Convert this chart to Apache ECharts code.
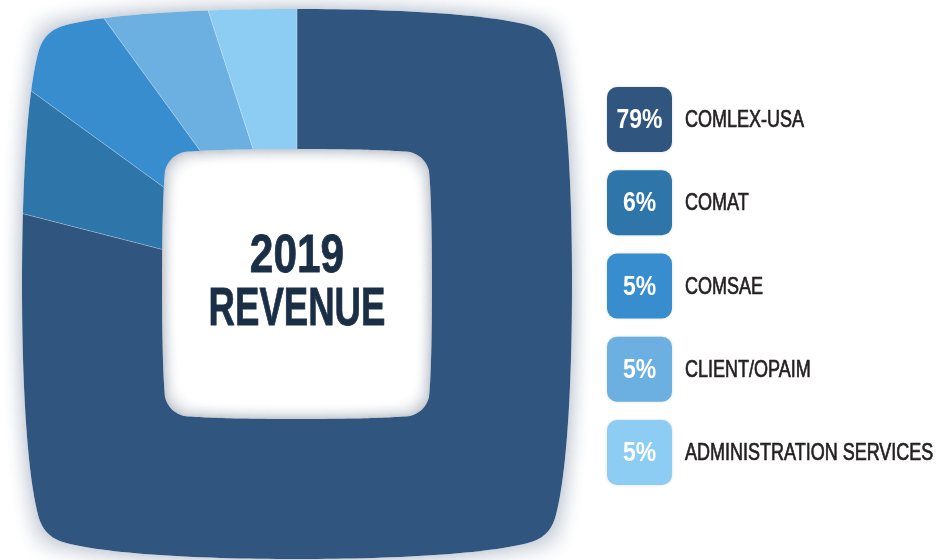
<!DOCTYPE html>
<html><head><meta charset="utf-8">
<script src="https://cdn.jsdelivr.net/npm/echarts@6/dist/echarts.min.js"></script>
<style>html,body{margin:0;padding:0;background:#fff}#c{width:939px;height:560px}</style>
</head><body><div id="c"></div>
<script>
// ---- data ----
const categories = ['COMLEX-USA', 'COMAT', 'COMSAE', 'CLIENT/OPAIM', 'ADMINISTRATION SERVICES'];
const shares = [79, 6, 5, 5, 5];
const sliceColors = ['#305680', '#2e75aa', '#388dcf', '#6cb0e2', '#8dcdf4'];
const titleLines = ['2019', 'REVENUE'];

// ---- layout ----
const W = 939, H = 560, CX = 297, CY = 284;
const OUTER = {h: 275, c: 42.6, b: 16.5, q: 22};
const HOLE = {h: 135, c: 22, b: 3, q: 7};

function cubic(p0, p1, p2, p3, n, out) {
  for (let i = 1; i <= n; i++) {
    const t = i / n, u = 1 - t;
    out.push([u*u*u*p0[0] + 3*u*u*t*p1[0] + 3*u*t*t*p2[0] + t*t*t*p3[0],
              u*u*u*p0[1] + 3*u*u*t*p1[1] + 3*u*t*t*p2[1] + t*t*t*p3[1]]);
  }
}
function quad(p0, p1, p2, n, out) {
  for (let i = 1; i <= n; i++) {
    const t = i / n, u = 1 - t;
    out.push([u*u*p0[0] + 2*u*t*p1[0] + t*t*p2[0], u*u*p0[1] + 2*u*t*p1[1] + t*t*p2[1]]);
  }
}
function quadrant(h, c, b, q) {
  const pts = [[0, -h]];
  const e1 = [h - c, -(h - b)];
  cubic([0, -h], [0.426*(h - c), -h], [0.817*(h - c), -(h - 0.3*b)], e1, 30, pts);
  const e2 = [h - b, -(h - c)];
  quad(e1, [h - q, -(h - q)], e2, 12, pts);
  cubic(e2, [h - 0.3*b, -0.817*(h - c)], [h, -0.426*(h - c)], [h, 0], 30, pts);
  return pts;
}
function shape(s, d) {
  const Q = quadrant(s.h + d, s.c, s.b, s.q);
  const R = Q.slice().reverse();
  const pts = [];
  Q.forEach(p => pts.push([p[0], p[1]]));
  R.slice(1).forEach(p => pts.push([p[0], -p[1]]));
  Q.slice(1).forEach(p => pts.push([-p[0], -p[1]]));
  R.slice(1, R.length - 1).forEach(p => pts.push([-p[0], p[1]]));
  return pts.map(p => [CX + p[0], CY + p[1]]);
}
function ring(outerPts, innerPts) {
  const pts = outerPts.slice();
  pts.push(outerPts[0]);
  pts.push(innerPts[0]);
  for (let i = innerPts.length - 1; i >= 0; i--) pts.push(innerPts[i]);
  return pts;
}

const elements = [];
// white mask outside the rounded square
const outerShape = shape(OUTER, 0);
const maskPts = [[CX, -20], [W + 20, -20], [W + 20, H + 20], [-20, H + 20], [-20, -20], [CX, -20]];
maskPts.push(outerShape[0]);
for (let i = outerShape.length - 1; i >= 0; i--) maskPts.push(outerShape[i]);
elements.push({type: 'polygon', z: 100, silent: true, shape: {points: maskPts}, style: {fill: '#ffffff'}});
// soft outer shadow
const OS = 22;
for (let d = 0; d < OS; d++) {
  const a = 0.30 * Math.pow(1 - d / OS, 2);
  elements.push({type: 'polygon', z: 101, silent: true,
    shape: {points: ring(shape(OUTER, d + 1), shape(OUTER, d))},
    style: {fill: 'rgba(95,115,145,' + a.toFixed(4) + ')'}});
}
// hole
elements.push({type: 'polygon', z: 102, silent: true, shape: {points: shape(HOLE, 0)}, style: {fill: '#ffffff'}});
const IS = 16;
for (let d = 0; d < IS; d++) {
  const a = 0.36 * Math.pow(1 - d / IS, 2);
  elements.push({type: 'polygon', z: 103, silent: true,
    shape: {points: ring(shape(HOLE, -d), shape(HOLE, -d - 1))},
    style: {fill: 'rgba(100,112,130,' + a.toFixed(4) + ')'}});
}
// center title
const titleScale = [0.80, 0.69];
titleLines.forEach((t, i) => {
  elements.push({type: 'text', z: 110, silent: true, x: CX, y: 257 + i * 53, scaleX: titleScale[i],
    style: {text: t, font: 'bold 53px "Liberation Sans", Arial, sans-serif', fill: '#1a2e46',
            stroke: '#1a2e46', lineWidth: 0.8,
            align: 'center', verticalAlign: 'middle'}});
});
// legend
const boxX = 607, boxY0 = 87, boxS = 65, boxStep = 83.25;
categories.forEach((name, i) => {
  const y = boxY0 + i * boxStep;
  elements.push({type: 'rect', z: 110, silent: true,
    shape: {x: boxX, y: y, width: boxS, height: boxS, r: 10},
    style: {fill: sliceColors[i], shadowBlur: 3, shadowColor: 'rgba(0,0,0,0.15)'}});
  elements.push({type: 'text', z: 111, silent: true, x: boxX + boxS / 2, y: y + boxS / 2 + 1, scaleX: 0.82,
    style: {text: shares[i] + '%', font: 'bold 28px "Liberation Sans", Arial, sans-serif', fill: '#ffffff',
            align: 'center', verticalAlign: 'middle'}});
  elements.push({type: 'text', z: 111, silent: true, x: 685, y: y + boxS / 2 + 1, scaleX: 0.75,
    style: {text: name, font: '24px "Liberation Sans", Arial, sans-serif', fill: '#231f20',
            stroke: '#231f20', lineWidth: 0.7,
            align: 'left', verticalAlign: 'middle'}});
});

const chart = echarts.init(document.getElementById('c'), null, {renderer: 'canvas'});
chart.setOption({
  backgroundColor: '#ffffff',
  animation: false,
  series: [{
    type: 'pie',
    center: [CX, CY],
    radius: [0, 420],
    startAngle: 90,
    clockwise: true,
    silent: true,
    label: {show: false},
    labelLine: {show: false},
    emphasis: {disabled: true},
    itemStyle: {borderColor: 'rgba(255,255,255,0.35)', borderWidth: 0.6},
    data: categories.map((n, i) => ({name: n, value: shares[i], itemStyle: {color: sliceColors[i]}}))
  }],
  graphic: {elements: elements}
});
</script>
</body></html>
